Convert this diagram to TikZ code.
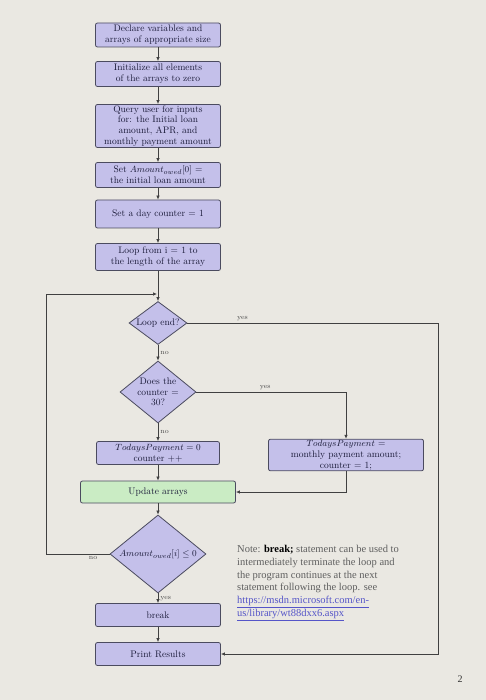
\documentclass[tikz,border=0pt]{standalone}
\usepackage{fontspec}
\usepackage{xcolor}
\usetikzlibrary{shapes.geometric,arrows.meta}
\newfontfamily\notefont{Liberation Serif}

\definecolor{paper}{RGB}{234,232,226}
\definecolor{boxfill}{RGB}{196,192,234}
\definecolor{updfill}{RGB}{202,236,196}
\definecolor{boxline}{RGB}{75,75,95}
\definecolor{boxtext}{RGB}{25,25,55}
\definecolor{notegray}{RGB}{95,95,95}
\definecolor{linkblue}{RGB}{85,85,200}

\tikzset{
	blockbox/.style={draw=boxline,fill=boxfill,rounded corners=2pt,line width=0.8pt,
		align=center,text=boxtext,font=\fontsize{9.5}{10.8}\selectfont,
		minimum width=125pt,minimum height=24pt,inner sep=1pt},
	decision/.style={diamond,draw=boxline,fill=boxfill,line width=0.8pt,inner sep=0pt},
	dtext/.style={align=center,text=boxtext,font=\fontsize{9.5}{10.8}\selectfont,inner sep=0pt},
	flowline/.style={draw=black!75,line width=0.7pt,-{Latex[length=4pt,width=3.5pt]}},
	lbl/.style={font=\fontsize{7}{8}\selectfont,text=black!70,inner sep=2pt}
}

\begin{document}
\begin{tikzpicture}[x=1pt,y=-1pt]
			\useasboundingbox[fill=paper] (0,0) rectangle (486,700);

			% straight part
			\node[blockbox] (declare) at (158,35) {Declare variables and\\arrays of appropriate size};
			\node[blockbox,minimum height=25pt] (initarr) at (158,74) {Initialize all elements\\of the arrays to zero};
			\node[blockbox,minimum height=43pt] (query) at (158,126) {Query user for inputs\\for: the Initial loan\\amount, APR, and\\monthly payment amount};
			\node[blockbox,minimum height=25pt] (setamount) at (158,175) {Set $Amount_{owed}[0]$ =\\the initial loan amount};
			\node[blockbox,minimum height=28pt] (daycnt) at (158,214) {Set a day counter = 1};
			\node[blockbox,minimum height=27pt] (loopfrom) at (158,257) {Loop from i = 1 to\\the length of the array};

			% decisions
			\node[decision,minimum width=58pt,minimum height=43pt] (loopend) at (158,323) {};
			\node[dtext] (loopendtxt) at (loopend) {Loop end?};
			\node[decision,minimum width=76pt,minimum height=62pt] (counter) at (158,392) {};
			\node[dtext] (countertxt) at (counter) {Does the\\counter =\\30?};

			\node[blockbox,minimum width=123pt,minimum height=23pt] (todayzero) at (158,453) {$TodaysPayment = 0$\\counter ++};
			\node[blockbox,minimum width=155pt,minimum height=31pt] (todayset) at (346,455) {$TodaysPayment$ =\\monthly payment amount;\\counter = 1;};
			\node[blockbox,fill=updfill,minimum width=155pt,minimum height=22pt] (update) at (158,492) {Update arrays};

			\node[decision,minimum width=96pt,minimum height=78pt] (owed) at (158,554) {};
			\node[dtext] (owedtxt) at (owed) {$Amount_{owed}[i] \leq 0$};
			\node[blockbox,minimum height=23pt] (brk) at (158,615) {break};
			\node[blockbox,minimum height=23pt] (print) at (158,654) {Print Results};

			\coordinate (merge) at (158,294);
			\coordinate (backleft) at (46,294);
			\coordinate (outer) at (438,654);

			% connectors
			\draw[flowline] (declare) -- (initarr);
			\draw[flowline] (initarr) -- (query);
			\draw[flowline] (query) -- (setamount);
			\draw[flowline] (setamount) -- (daycnt);
			\draw[flowline] (daycnt) -- (loopfrom);
			\draw[flowline] (loopfrom) -- (loopend);
			\draw[flowline] (loopend) -- node[lbl,right]{no} (counter);
			\draw[flowline] (loopend.east) -| node[lbl,pos=0.11,above]{yes} (outer) -- (print.east);
			\draw[flowline] (counter) -- node[lbl,right]{no} (todayzero);
			\draw[flowline] (counter.east) -| node[lbl,pos=0.23,above]{yes} (todayset.north);
			\draw[flowline] (todayzero) -- (update);
			\draw[flowline] (todayset.south) |- (update.east);
			\draw[flowline] (update) -- (owed);
			\draw[flowline,shorten >=1pt] (owed.west) -| node[lbl,pos=0.13,below]{no} (backleft) -- (merge);
			\draw[flowline] (owed) -- node[lbl,right]{yes} (brk);
			\draw[flowline] (brk) -- (print);

			% note and page number
			\node[anchor=north west,align=left,inner sep=0pt,text=notegray,
				font=\notefont\fontsize{10.5}{12.8}\selectfont] (note) at (237,545)
			{
				Note: \textcolor{black}{\textbf{break;}} statement can be used to\\
				intermediately terminate the loop and\\
				the program continues at the next\\
				statement following the loop. see\\
				\textcolor{linkblue}{\underline{https://msdn.microsoft.com/en-}}\\
				\textcolor{linkblue}{\underline{us/library/wt88dxx6.aspx}}
			};
			\node[font=\notefont\fontsize{10}{12}\selectfont,text=black!80] (pagenum) at (460,679) {2};
		\end{tikzpicture}
\end{document}
